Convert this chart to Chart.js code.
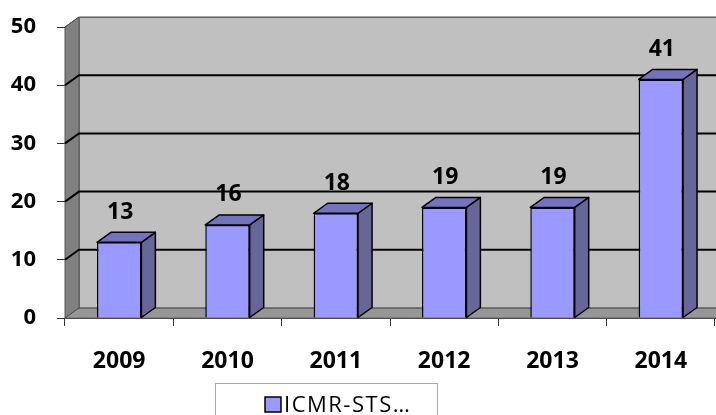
<!DOCTYPE html>
<html>
<head>
<meta charset="utf-8">
<script src="https://cdn.jsdelivr.net/npm/chart.js@4/dist/chart.umd.min.js"></script>
<style>
html,body{margin:0;padding:0;background:#fff;overflow:hidden;}
#wrap{position:relative;width:716px;height:415px;}
</style>
</head>
<body>
<div id="wrap"><canvas id="c"></canvas></div>
<script>
const categories = ['2009', '2010', '2011', '2012', '2013', '2014'];
const values = [13, 16, 18, 19, 19, 41];
const yTicks = [0, 10, 20, 30, 40, 50];
const seriesLabel = 'ICMR-STS…';

const FONT = '"Open Sans", "DejaVu Sans", sans-serif';
const DX = 14, DY = -10;

const threeD = {
  id: 'threeD',
  beforeDatasetsDraw(chart) {
    const ctx = chart.ctx, ca = chart.chartArea, ys = chart.scales.y;
    const yTop = ys.getPixelForValue(yTicks[yTicks.length - 1]);
    const yBot = ys.getPixelForValue(0);
    const L = ca.left, R = ca.right + 20;
    ctx.save();
    // back wall
    ctx.fillStyle = '#C0C0C0';
    ctx.fillRect(L + DX, yTop + DY, R - L, yBot - yTop);
    ctx.strokeStyle = '#777';
    ctx.lineWidth = 1;
    ctx.strokeRect(L + DX + 0.5, yTop + DY + 0.5, R - L, yBot - yTop);
    // left wall
    ctx.fillStyle = '#808080';
    ctx.beginPath();
    ctx.moveTo(L, yTop); ctx.lineTo(L + DX, yTop + DY);
    ctx.lineTo(L + DX, yBot + DY); ctx.lineTo(L, yBot); ctx.closePath();
    ctx.fill();
    ctx.strokeStyle = '#555';
    ctx.stroke();
    // floor
    ctx.fillStyle = '#969696';
    ctx.beginPath();
    ctx.moveTo(L, yBot); ctx.lineTo(L + DX, yBot + DY);
    ctx.lineTo(R + DX, yBot + DY); ctx.lineTo(R, yBot); ctx.closePath();
    ctx.fill();
    ctx.strokeStyle = '#666';
    ctx.stroke();
    // gridlines
    yTicks.forEach(v => {
      const yp = ys.getPixelForValue(v);
      const inner = v !== 0 && v !== yTicks[yTicks.length - 1];
      ctx.strokeStyle = inner ? '#000' : '#555';
      ctx.lineWidth = inner ? 2 : 1;
      ctx.beginPath();
      ctx.moveTo(L, yp); ctx.lineTo(L + DX, yp + DY); ctx.lineTo(R + DX, yp + DY);
      ctx.stroke();
    });
    ctx.restore();
  },
  afterDatasetsDraw(chart) {
    const ctx = chart.ctx;
    const meta = chart.getDatasetMeta(0);
    ctx.save();
    ctx.lineWidth = 1.5;
    ctx.strokeStyle = '#000';
    ctx.lineJoin = 'round';
    meta.data.forEach((el, i) => {
      const p = el.getProps(['x', 'y', 'base', 'width'], true);
      const l = p.x - p.width / 2, r = p.x + p.width / 2;
      // side
      ctx.fillStyle = '#666699';
      ctx.beginPath();
      ctx.moveTo(r, p.y); ctx.lineTo(r + DX, p.y + DY);
      ctx.lineTo(r + DX, p.base + DY); ctx.lineTo(r, p.base); ctx.closePath();
      ctx.fill(); ctx.stroke();
      // top
      ctx.fillStyle = '#7373C0';
      ctx.beginPath();
      ctx.moveTo(l, p.y); ctx.lineTo(l + DX, p.y + DY);
      ctx.lineTo(r + DX, p.y + DY); ctx.lineTo(r, p.y); ctx.closePath();
      ctx.fill(); ctx.stroke();
      // value label
      ctx.fillStyle = '#000';
      ctx.font = 'bold 23px ' + FONT;
      ctx.textAlign = 'center';
      ctx.textBaseline = 'middle';
      ctx.fillText(String(values[i]), p.x + 1, p.y - 30);
    });
    ctx.restore();
  },
  afterDraw(chart) {
    const ctx = chart.ctx;
    ctx.save();
    ctx.setLineDash([1, 1]);
    ctx.strokeStyle = '#555';
    ctx.lineWidth = 1;
    ctx.strokeRect(215.5, 383.5, 222, 40);
    ctx.setLineDash([]);
    ctx.fillStyle = '#9999FF';
    ctx.fillRect(265, 397, 16, 15);
    ctx.strokeStyle = '#000';
    ctx.lineWidth = 1.5;
    ctx.strokeRect(265, 397, 16, 15);
    ctx.fillStyle = '#000';
    ctx.font = '22px ' + FONT;
    ctx.letterSpacing = '1.5px';
    ctx.textAlign = 'left';
    ctx.textBaseline = 'alphabetic';
    ctx.fillText(chart.data.datasets[0].label, 284, 412);
    ctx.restore();
  }
};

new Chart(document.getElementById('c'), {
  type: 'bar',
  data: {
    labels: categories,
    datasets: [{
      label: seriesLabel,
      data: values,
      backgroundColor: '#9999FF',
      borderColor: '#000',
      borderWidth: 1.5,
      barPercentage: 0.41,
      categoryPercentage: 1
    }]
  },
  options: {
    responsive: true,
    maintainAspectRatio: false,
    animation: false,
    layout: { padding: { top: 27, right: 1, left: 0, bottom: 0 } },
    plugins: { legend: { display: false }, tooltip: { enabled: false } },
    scales: {
      x: {
        offset: true,
        grid: { offset: true, drawOnChartArea: false, tickLength: 8, color: '#333' },
        border: { display: true, color: '#333', width: 1, dash: [2, 1] },
        ticks: { color: '#000', font: { family: FONT, size: 23, weight: 'bold' }, padding: 22, maxRotation: 0 },
        afterFit(s) { s.height = 97; s.paddingLeft = 0; s.paddingRight = 0; }
      },
      y: {
        min: 0, max: 50,
        afterBuildTicks(s) { s.ticks = yTicks.map(v => ({ value: v })); },
        grid: { drawOnChartArea: false, tickLength: 8, color: '#333' },
        border: { display: true, color: '#444', width: 1 },
        ticks: { color: '#000', font: { family: FONT, size: 22, weight: 'bold' }, padding: 21 },
        afterFit(s) { s.width = 65; s.paddingTop = 0; s.paddingBottom = 0; }
      }
    }
  },
  plugins: [threeD]
});
</script>
</body>
</html>
